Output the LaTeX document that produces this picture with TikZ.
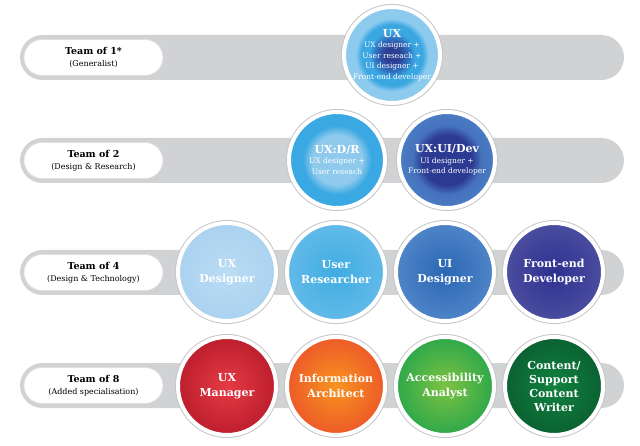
\documentclass[tikz,border=0pt]{standalone}
\usepackage{fontspec}
\setmainfont{DejaVu Serif}
\usepackage{xcolor}

\definecolor{bargrey}{HTML}{D1D2D4}
\definecolor{ringgrey}{HTML}{C6C7C9}
\definecolor{navyc}{HTML}{2C3F93}
\definecolor{midblue}{HTML}{2F6FBE}
\definecolor{skyblue}{HTML}{3BA7E1}
\definecolor{paleblue}{HTML}{8DCBEE}
\definecolor{drinner}{HTML}{8FCAED}
\definecolor{drouter}{HTML}{3AA8E2}
\definecolor{devinner}{HTML}{2C3A91}
\definecolor{devouter}{HTML}{4A7CC4}
\definecolor{uxdin}{HTML}{BBDCF4}
\definecolor{uxdout}{HTML}{AAD2F0}
\definecolor{uresin}{HTML}{3FACE2}
\definecolor{uresout}{HTML}{62BAE8}
\definecolor{uidin}{HTML}{2A67B4}
\definecolor{uidout}{HTML}{4F84C7}
\definecolor{fedin}{HTML}{2E3090}
\definecolor{fedout}{HTML}{4B4D9F}
\definecolor{uxmin}{HTML}{E43B45}
\definecolor{uxmout}{HTML}{BD1E2D}
\definecolor{iain}{HTML}{F7941E}
\definecolor{iaout}{HTML}{ED5A29}
\definecolor{aain}{HTML}{7DC242}
\definecolor{aaout}{HTML}{2EA84A}
\definecolor{cswin}{HTML}{11813F}
\definecolor{cswout}{HTML}{0A6131}

\pgfdeclareradialshading{teamone}{\pgfpoint{0bp}{0bp}}{color(0bp)=(navyc); color(4bp)=(navyc); color(8.5bp)=(midblue); color(12bp)=(skyblue); color(16bp)=(skyblue); color(19bp)=(paleblue); color(25bp)=(paleblue); color(50bp)=(paleblue)}
\pgfdeclareradialshading{teamdr}{\pgfpoint{0bp}{0bp}}{color(0bp)=(drinner); color(13bp)=(drinner); color(18bp)=(drouter); color(25bp)=(drouter); color(50bp)=(drouter)}
\pgfdeclareradialshading{teamdev}{\pgfpoint{0bp}{0bp}}{color(0bp)=(devinner); color(13bp)=(devinner); color(18bp)=(devouter!85!devinner); color(25bp)=(devouter); color(50bp)=(devouter)}

\begin{document}
\begin{tikzpicture}[x=1pt,y=-1pt,
  bar/.style={fill=bargrey, rounded corners=22.5pt},
  pill/.style={rectangle, rounded corners=18pt, fill=white, draw=black!12, line width=0.8pt,
    minimum width=139pt, minimum height=36pt, align=center, font=\fontsize{8}{12}\selectfont},
  disc/.style={circle, minimum size=98pt, inner sep=0pt, align=center, text=white,
    font=\bfseries\fontsize{11}{15}\selectfont,
    preaction={draw=ringgrey, line width=6pt}, draw=white, line width=4pt},
  bigdisc/.style={disc, minimum size=96pt, font=\fontsize{7.5}{10.5}\selectfont}]
\useasboundingbox (0,0) rectangle (640,446);

\fill[bar] (20,35) rectangle (624,80);
\fill[bar] (20,138) rectangle (624,183);
\fill[bar] (20,250) rectangle (624,295);
\fill[bar] (20,363) rectangle (624,408);

\node[pill] (l1) at (93.5,57.5) {{\bfseries\fontsize{9.5}{12}\selectfont Team of 1*}\\(Generalist)};
\node[pill] (l2) at (93.5,160.5) {{\bfseries\fontsize{9.5}{12}\selectfont Team of 2}\\(Design \& Research)};
\node[pill] (l3) at (93.5,272.5) {{\bfseries\fontsize{9.5}{12}\selectfont Team of 4}\\(Design \& Technology)};
\node[pill] (l4) at (93.5,385.5) {{\bfseries\fontsize{9.5}{12}\selectfont Team of 8}\\(Added specialisation)};

% team of 1
\node[bigdisc, shading=teamone] (ux) at (392,55) {{\bfseries\fontsize{11}{12}\selectfont UX}\\UX designer +\\User reseach +\\UI designer +\\Front-end developer};

% team of 2
\node[bigdisc, shading=teamdr] (uxdr) at (337,160) {{\bfseries\fontsize{11}{13}\selectfont UX:D/R}\\UX designer +\\User reseach};
\node[bigdisc, shading=teamdev] (uxdev) at (447,160) {{\bfseries\fontsize{11}{13}\selectfont UX:UI/Dev}\\UI designer +\\Front-end developer};

% team of 4
\node[disc, inner color=uxdin, outer color=uxdout] (uxd) at (227,272) {UX\\Designer};
\node[disc, inner color=uresin, outer color=uresout] (ures) at (336,272) {User\\Researcher};
\node[disc, inner color=uidin, outer color=uidout] (uid) at (445,272) {UI\\Designer};
\node[disc, inner color=fedin, outer color=fedout] (fed) at (554,272) {Front-end\\Developer};

% team of 8
\node[disc, inner color=uxmin, outer color=uxmout] (uxm) at (227,386) {UX\\Manager};
\node[disc, inner color=iain, outer color=iaout] (ia) at (336,386) {Information\\Architect};
\node[disc, inner color=aain, outer color=aaout] (aa) at (445,386) {Accessibility\\Analyst};
\node[disc, inner color=cswin, outer color=cswout, font=\bfseries\fontsize{11}{14}\selectfont] (csw) at (554,386) {Content/\\Support\\Content\\Writer};
\end{tikzpicture}
\end{document}
